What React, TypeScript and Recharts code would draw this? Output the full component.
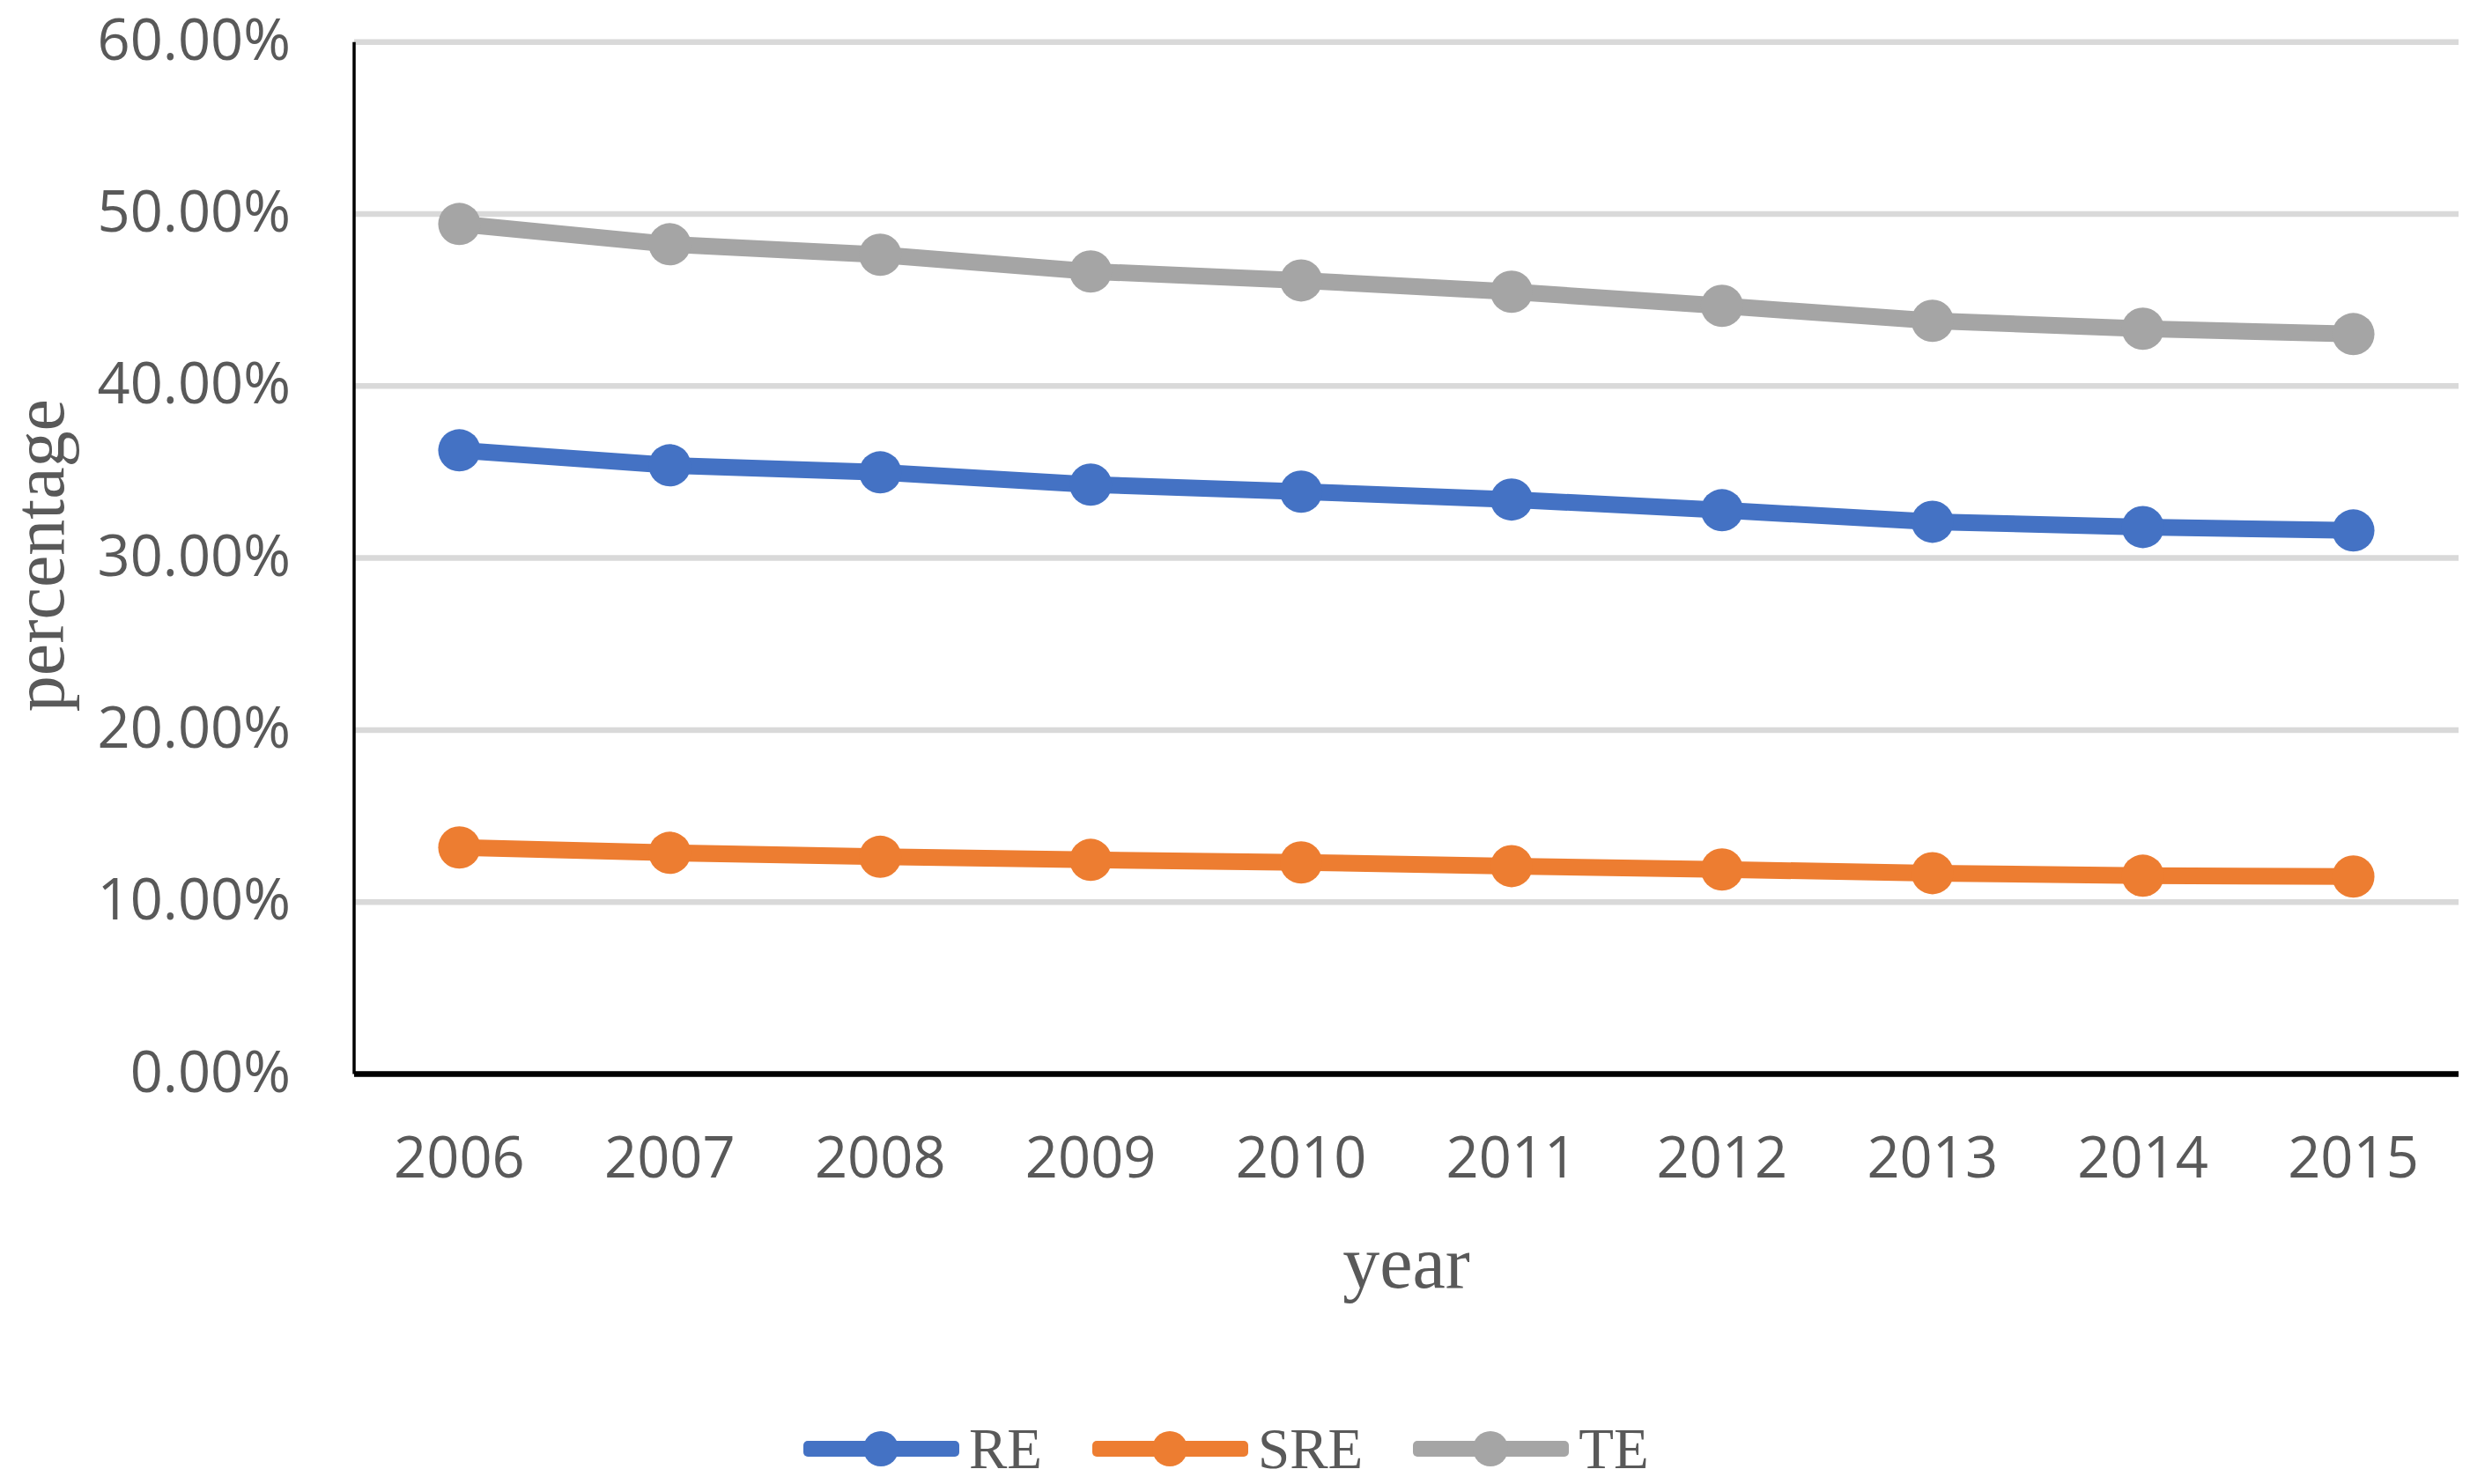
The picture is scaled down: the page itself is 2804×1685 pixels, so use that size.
import React from 'react';
import { LineChart, Line, XAxis, YAxis, CartesianGrid, Legend, Label } from 'recharts';

const years = ['2006', '2007', '2008', '2009', '2010', '2011', '2012', '2013', '2014', '2015'];
const reValues = [36.26, 35.39, 34.98, 34.27, 33.86, 33.4, 32.78, 32.11, 31.8, 31.6];
const sreValues = [13.17, 12.86, 12.63, 12.45, 12.3, 12.09, 11.89, 11.68, 11.53, 11.48];
const teValues = [49.42, 48.24, 47.63, 46.66, 46.14, 45.48, 44.66, 43.79, 43.33, 43.02];
const yTicks = [0, 10, 20, 30, 40, 50, 60];

const seriesNames = ['RE', 'SRE', 'TE'];
const seriesColors = ['#4472C4', '#ED7D31', '#A5A5A5'];

const data = years.map((y, i) => ({
  year: y,
  RE: reValues[i],
  SRE: sreValues[i],
  TE: teValues[i],
}));

const W = 2804;
const H = 1685;
const PLOT_LEFT = 402;
const PLOT_RIGHT = 2791;
const PLOT_TOP = 47.7;
const PLOT_BOTTOM = 1219.5;
const XAXIS_H = 300;
const BAND = (PLOT_RIGHT - PLOT_LEFT) / years.length;

const sansFont = '"Open Sans", "Noto Sans", sans-serif';
const serifFont = '"Liberation Serif", "Times New Roman", serif';
const textGray = '#595959';

const renderLegend = (props: any) => {
  const { payload } = props;
  return (
    <div style={{ display: 'flex', flexDirection: 'row', alignItems: 'center', height: 50 }}>
      {(payload || []).map((entry: any, i: number) => (
        <div key={i} style={{ display: 'flex', alignItems: 'center', marginRight: 57, height: 50 }}>
          <svg width={177} height={50} style={{ display: 'block' }}>
            <rect x={0} y={16} width={177} height={18} rx={5} fill={entry.color} />
            <circle cx={88} cy={25} r={20} fill={entry.color} />
          </svg>
          <span
            style={{
              marginLeft: 11,
              fontFamily: serifFont,
              fontSize: 65,
              lineHeight: '50px',
              color: textGray,
              whiteSpace: 'nowrap',
            }}
          >
            {entry.value}
          </span>
        </div>
      ))}
    </div>
  );
};

const YTitle = (props: any) => {
  const vb = props.viewBox || {};
  const cy = (vb.y || 0) + (vb.height || 0) / 2 - 3;
  const cx = 72;
  return (
    <text
      x={cx}
      y={cy}
      transform={`rotate(-90, ${cx}, ${cy})`}
      textAnchor="middle"
      fontFamily={serifFont}
      fontSize={82}
      fill={textGray}
    >
      percentage
    </text>
  );
};

const XTitle = (props: any) => {
  const vb = props.viewBox || {};
  const cx = (vb.x || 0) + (vb.width || 0) / 2;
  const cy = (vb.y || 0) + 242.5;
  return (
    <text x={cx} y={cy} textAnchor="middle" fontFamily={serifFont} fontSize={84} fill={textGray}>
      year
    </text>
  );
};

export default function App() {
  return (
    <div style={{ position: 'absolute', left: 0, top: 0, width: W, height: H, background: '#ffffff' }}>
      <LineChart
        width={W}
        height={H}
        data={data}
        margin={{ top: PLOT_TOP, right: W - PLOT_RIGHT, bottom: H - PLOT_BOTTOM - XAXIS_H, left: 0 }}
      >
        <CartesianGrid vertical={false} stroke="#D9D9D9" strokeWidth={6.5} />
        <XAxis
          dataKey="year"
          height={XAXIS_H}
          padding={{ left: BAND / 2, right: BAND / 2 }}
          axisLine={{ stroke: '#000000', strokeWidth: 6.5 }}
          tickLine={false}
          tickSize={0}
          tickMargin={71.5}
          tick={{ fontFamily: sansFont, fontSize: 65, fill: textGray }}
          interval={0}
        >
          <Label content={<XTitle />} />
        </XAxis>
        <YAxis
          width={PLOT_LEFT}
          domain={[0, 60]}
          ticks={yTicks}
          interval={0}
          axisLine={{ stroke: '#000000', strokeWidth: 3.5 }}
          tickLine={false}
          tickSize={0}
          tickMargin={72}
          tickFormatter={(v: number) => `${v.toFixed(2)}%`}
          tick={{ fontFamily: sansFont, fontSize: 65, fill: textGray, dy: -3 }}
        >
          <Label content={<YTitle />} />
        </YAxis>
        <Legend
          layout="horizontal"
          verticalAlign="middle"
          align="center"
          width={1200}
          wrapperStyle={{ left: 912, top: 1620, width: 1200 }}
          content={renderLegend}
        />
        {seriesNames.map((name, i) => (
          <Line
            key={name}
            type="linear"
            dataKey={name}
            name={name}
            stroke={seriesColors[i]}
            strokeWidth={19}
            strokeLinejoin="round"
            dot={{ r: 24, fill: seriesColors[i], stroke: seriesColors[i], strokeWidth: 0 }}
            activeDot={false}
            isAnimationActive={false}
          />
        ))}
      </LineChart>
    </div>
  );
}
